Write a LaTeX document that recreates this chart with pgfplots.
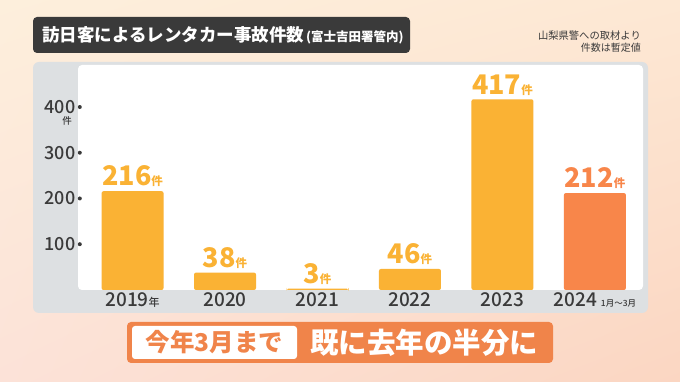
\documentclass[border=0pt]{standalone}
\usepackage{pgfplots}
\pgfplotsset{compat=1.18}
\usetikzlibrary{shadings}
\usepackage{fontspec}
\setmainfont{Noto Sans CJK JP}
\newfontfamily\med{Noto Sans CJK JP Medium}
\definecolor{baryel}{RGB}{250,178,52}
\definecolor{barorg}{RGB}{248,134,74}
\definecolor{dtext}{RGB}{58,58,58}
\definecolor{panel}{RGB}{221,224,226}
\definecolor{titlebox}{RGB}{58,58,58}
\definecolor{banner}{RGB}{240,132,74}
\definecolor{bgA}{RGB}{253,239,220}
\definecolor{bgB}{RGB}{253,232,212}
\definecolor{bgC}{RGB}{252,226,216}
\definecolor{bgD}{RGB}{251,214,194}
\newcommand{\tdot}{\raisebox{4.5pt}{\tikz\fill[dtext] (0,0) circle (2pt);}}
\begin{document}
\begin{tikzpicture}[x=1pt,y=1pt]
% background
\shade[upper left=bgA, upper right=bgB, lower left=bgC, lower right=bgD] (0,0) rectangle (680,382);
% gray panel and white plot area
\fill[panel, rounded corners=6pt] (33,69) rectangle (648,320);
\fill[white, rounded corners=4pt] (78,92) rectangle (643,317);
% title
\fill[titlebox, rounded corners=4pt] (33,329) rectangle (410,365);
\node[anchor=west, text=white, inner sep=0pt] at (42,347)
  {\fontsize{17.5}{18}\selectfont\bfseries 訪日客によるレンタカー事故件数\hspace{2pt}{\fontsize{12.5}{13}\selectfont (富士吉田署管内)}};
\node[anchor=east, text=dtext, inner sep=0pt, align=right] at (641,340)
  {\fontsize{10.3}{14}\selectfont 山梨県警への取材より\\件数は暫定値};
% bottom banner
\fill[banner, rounded corners=4pt] (127,19) rectangle (553,60);
\fill[white, rounded corners=3pt] (132,23) rectangle (297,56);
\node[text=banner, inner sep=0pt] at (214.5,39.5) {\fontsize{24.5}{24}\selectfont\bfseries 今年3月まで};
\node[text=white, inner sep=0pt] at (424,39.5) {\fontsize{28.5}{28}\selectfont\bfseries 既に去年の半分に};
\begin{axis}[
  at={(78pt,92pt)}, anchor=south west,
  scale only axis, width=565pt, height=225pt,
  xmin=-0.59, xmax=5.52, ymin=0, ymax=492,
  ybar, bar width=62pt,
  axis line style={draw=none},
  major tick length=0pt,
  /pgf/number format/assume math mode=true,
  ytick={100,200,300,400},
  yticklabel={\pgfmathprintnumber{\tick}\hspace{2.5pt}\tdot},
  yticklabel style={font=\fontsize{18}{18}\selectfont\med, text=dtext, anchor=east, xshift=4pt, inner sep=0pt},
  xtick={0,1,2,3,4,5},
  xticklabels={{2019{\fontsize{11}{11}\selectfont 年}},2020,2021,2022,2023,{2024\hspace{4pt}{\fontsize{8.5}{8}\selectfont 1月〜3月}}},
  xticklabel style={font=\fontsize{19}{19}\selectfont\med, text=dtext, anchor=north, yshift=-2pt, inner sep=0pt},
  nodes near coords={\pgfmathprintnumber{\pgfplotspointmeta}{\fontsize{11.5}{11}\selectfont 件}},
  nodes near coords style={font=\fontsize{27}{27}\selectfont\bfseries, anchor=south, inner sep=0pt, yshift=4pt},
  clip=false,
]
\addplot[fill=baryel, draw=none, bar shift=0pt, rounded corners=2pt, nodes near coords style={text=baryel}]
  coordinates {(0,216) (1,38) (2,3) (3,46) (4,417)};
\addplot[fill=barorg, draw=none, bar shift=0pt, rounded corners=2pt, nodes near coords style={text=barorg}]
  coordinates {(5,212)};
\node[text=dtext, inner sep=0pt, xshift=-11pt] at (axis cs:-0.59,369) {\fontsize{9.5}{9}\selectfont\med 件};
\end{axis}
\end{tikzpicture}
\end{document}
